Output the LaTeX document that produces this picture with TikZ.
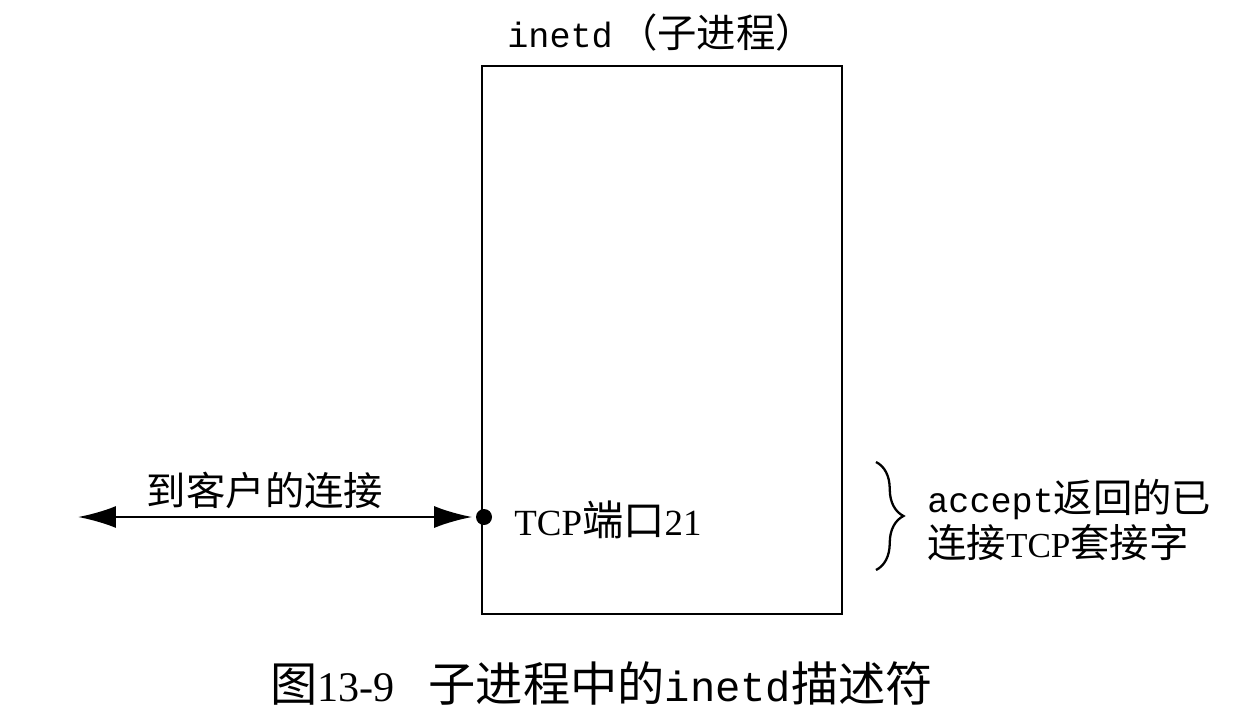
\documentclass[tikz,border=0pt]{standalone}
\usepackage{fontspec}
\setmainfont{Liberation Serif}
\setmonofont{Liberation Mono}
\newfontfamily\cjk[Scale=1.12]{Noto Sans CJK SC}
\usetikzlibrary{arrows.meta,decorations.pathreplacing}

\tikzset{
	proc/.style={draw, line width=1.5pt, minimum width=7.2cm, minimum height=10.96cm, inner sep=0pt},
	lbl/.style={font=\fontsize{20}{24}\selectfont, inner sep=0pt},
	conn/.style={line width=1.3pt, {Latex[length=0.76cm,width=0.44cm]}-{Latex[length=0.76cm,width=0.44cm]}, shorten >=2pt}
}

\begin{document}
\begin{tikzpicture}[x=0.02cm, y=-0.02cm]
		\useasboundingbox (0,0) rectangle (1250,724);
		
		\node[proc] (inetd) at (662, 340) {};
		\node[lbl, anchor=west] (title) at (507, 33) {\ttfamily inetd\hspace{0.15em}\cjk（子进程）};
		
		\node[circle, fill, inner sep=0pt, minimum size=0.32cm] (port) at (484, 517) {};
		\node[lbl, anchor=west, font=\fontsize{21}{25}\selectfont] (portlbl) at (514, 520) {TCP\cjk 端口\rmfamily 21};
		\coordinate (client) at (78, 517);
		\draw[conn] (client) -- (port);
		\node[lbl] (connlbl) at (265, 490) {\cjk 到客户的连接};
		
		\coordinate (btop) at (876, 462);
		\coordinate (bbot) at (876, 570);
		\draw[line width=1.3pt, decorate, decoration={brace, amplitude=0.55cm}] (btop) -- (bbot);
		\node[lbl, anchor=west, align=left] (sock) at (927, 520) {{\ttfamily accept}{\cjk 返回的已}\\[2pt]{\cjk 连接}TCP{\cjk 套接字}};
		
		\node[lbl, anchor=west, font=\fontsize{24}{28}\selectfont] (caption) at (270, 683) {{\cjk 图}13-9\hspace{0.8em}{\cjk 子进程中的}{\ttfamily inetd}{\cjk 描述符}};
	\end{tikzpicture}
\end{document}
